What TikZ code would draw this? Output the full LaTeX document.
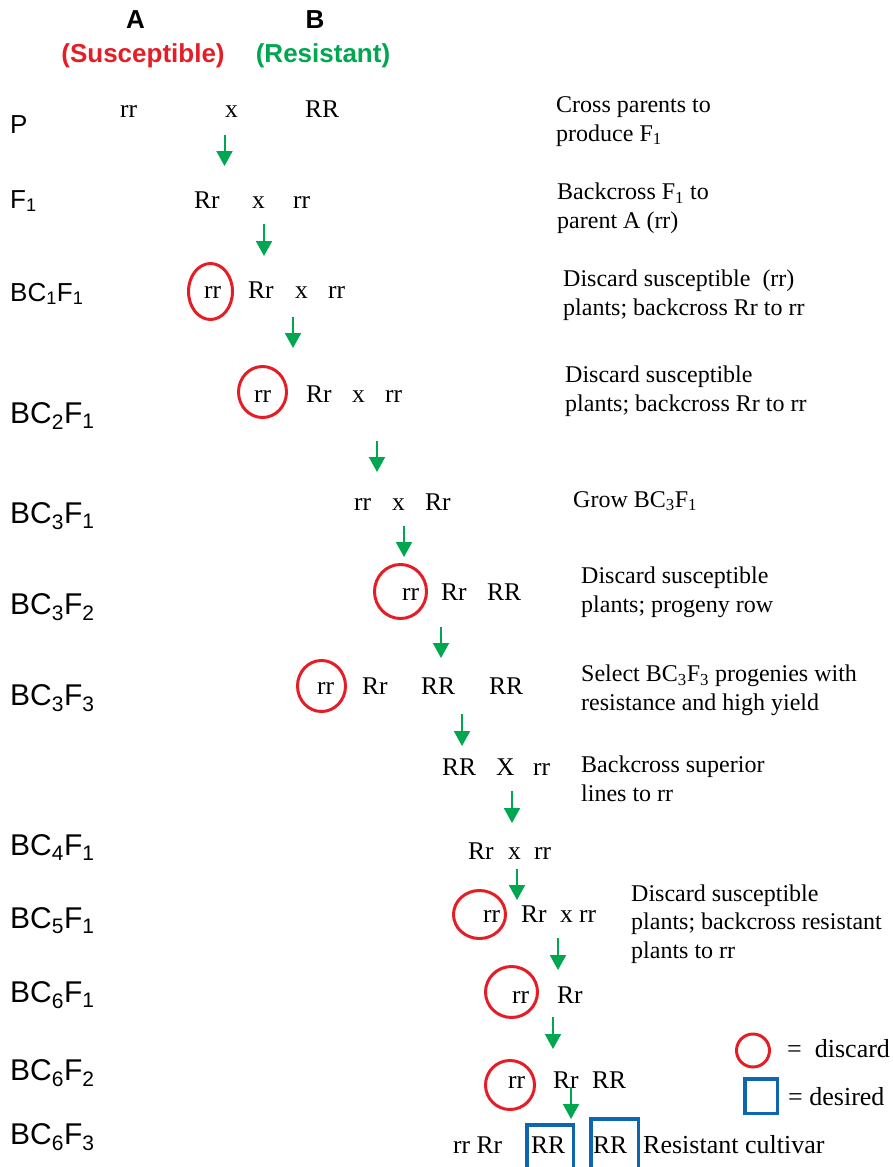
\documentclass[tikz,border=0pt]{standalone}
\usepackage{fontspec}
\setmainfont{Liberation Serif}
\setsansfont{Liberation Sans}
\usetikzlibrary{arrows.meta,shapes.geometric}

\definecolor{discred}{HTML}{E41E26}
\definecolor{flowgreen}{HTML}{00A650}
\definecolor{keepblue}{HTML}{0F66B0}

\tikzset{
  gen/.style={inner sep=0pt, anchor=base west, font=\fontsize{25.5}{30}\selectfont},
  gen label/.style={inner sep=0pt, anchor=base west, font=\sffamily\fontsize{30}{36}\selectfont},
  small label/.style={inner sep=0pt, anchor=base west, font=\sffamily\fontsize{26}{31}\selectfont},
  note/.style={inner sep=0pt, anchor=base west, align=left, font=\fontsize{24}{28.5}\selectfont},
  head/.style={inner sep=0pt, anchor=base, font=\sffamily\bfseries\fontsize{26}{31}\selectfont},
  discard/.style={draw=discred, line width=3pt, ellipse, inner sep=0pt},
  desired/.style={draw=keepblue, line width=3.5pt, rectangle, inner sep=0pt},
  flow/.style={draw=flowgreen, line width=2pt, -{Triangle[width=16pt,length=15pt]}},
}

\begin{document}
\begin{tikzpicture}[x=1pt, y=-1pt]

        \useasboundingbox (0,0) rectangle (893,1167);

        % Parent headings
        \node[head] (hA) at (135.5,28) {A};
        \node[head, text=discred] (hAs) at (143,62) {(Susceptible)};
        \node[head] (hB) at (315,28) {B};
        \node[head, text=flowgreen] (hBs) at (323,62) {(Resistant)};

        % Generation labels on the left
        \node[small label] (gP) at (10,133) {P};
        \node[small label] (gF) at (10,208) {F\textsubscript{1}};
        \node[small label] (gBC1) at (10,301) {BC\textsubscript{1}F\textsubscript{1}};
        \foreach \k/\b/\f/\y in {2/2/1/423, 3/3/1/523, 4/3/2/614, 5/3/3/705,
                                 6/4/1/855, 7/5/1/928, 8/6/1/1002, 9/6/2/1080, 10/6/3/1144} {
            \node[gen label] (g\k) at (10,\y) {BC\textsubscript{\b}F\textsubscript{\f}};
        }

        % Genotypes, row by row
        \node[gen] (p1) at (120,117) {rr};
        \node[gen] (px) at (225,117) {x};
        \node[gen] (p2) at (305,117) {RR};

        \node[gen] (f1) at (194,208) {Rr};
        \node[gen] (fx) at (252,208) {x};
        \node[gen] (f2) at (293,208) {rr};

        \node[gen] (b1a) at (204,298) {rr};
        \node[gen] (b1b) at (248,298) {Rr};
        \node[gen] (b1x) at (295,298) {x};
        \node[gen] (b1c) at (328,298) {rr};

        \node[gen] (b2a) at (254,402) {rr};
        \node[gen] (b2b) at (306,402) {Rr};
        \node[gen] (b2x) at (352,402) {x};
        \node[gen] (b2c) at (385,402) {rr};

        \node[gen] (b3a) at (354,510) {rr};
        \node[gen] (b3x) at (392,510) {x};
        \node[gen] (b3b) at (425,510) {Rr};

        \node[gen] (b32a) at (402,600) {rr};
        \node[gen] (b32b) at (441,600) {Rr};
        \node[gen] (b32c) at (487,600) {RR};

        \node[gen] (b33a) at (317,694) {rr};
        \node[gen] (b33b) at (362,694) {Rr};
        \node[gen] (b33c) at (421,694) {RR};
        \node[gen] (b33d) at (489,694) {RR};

        \node[gen] (sa) at (442,775) {RR};
        \node[gen] (sx) at (496,775) {X};
        \node[gen] (sb) at (533,775) {rr};

        \node[gen] (b4a) at (468,859) {Rr};
        \node[gen] (b4x) at (508,859) {x};
        \node[gen] (b4b) at (534,859) {rr};

        \node[gen] (b5a) at (483,922) {rr};
        \node[gen] (b5b) at (521,922) {Rr};
        \node[gen] (b5x) at (560,922) {x};
        \node[gen] (b5c) at (579,922) {rr};

        \node[gen] (b6a) at (512,1003) {rr};
        \node[gen] (b6b) at (557,1003) {Rr};

        \node[gen] (b62a) at (508,1088) {rr};
        \node[gen] (b62b) at (553,1088) {Rr};
        \node[gen] (b62c) at (592,1088) {RR};

        \node[gen] (b63a) at (453,1153) {rr Rr};
        \node[gen] (b63b) at (531,1153) {RR};
        \node[gen] (b63c) at (593,1153) {RR};
        \node[gen, font=\fontsize{26}{31}\selectfont] (cult) at (643,1153) {Resistant cultivar};

        % Red rings round the discarded plants
        \node[discard, minimum width=44, minimum height=56] (d1) at (210.5,291.5) {};
        \node[discard, minimum width=48, minimum height=51] (d2) at (262.5,392) {};
        \node[discard, minimum width=52, minimum height=54] (d3) at (400.5,591.5) {};
        \node[discard, minimum width=48, minimum height=51] (d4) at (321.5,686) {};
        \node[discard, minimum width=52, minimum height=48] (d5) at (479.5,914.5) {};
        \node[discard, minimum width=52, minimum height=51] (d6) at (511.5,992) {};
        \node[discard, minimum width=49, minimum height=49] (d7) at (510,1085) {};

        % Blue boxes round the kept lines
        \node[desired, minimum width=46.5, minimum height=48] (k1) at (550,1148.75) {};
        \node[desired, minimum width=47.5, minimum height=54] (k2) at (614.5,1145.75) {};

        % Green arrows between generations
        \foreach \x/\ya/\yb [count=\i] in {224.5/135/166, 264/224/256, 293/317/348, 377/441/472,
                                           404/526/557, 441/627/658, 462/714/746, 512/791/823,
                                           517/869/900, 558/938/970, 553/1017/1049, 571/1087/1119} {
            \coordinate (s\i) at (\x,\ya);
            \coordinate (e\i) at (\x,\yb);
            \draw[flow] (s\i) -- (e\i);
        }

        % Notes on the right (placed by the baseline of their last line)
        \node[note] (n1) at (556,141) {Cross parents to\\produce F\textsubscript{1}};
        \node[note] (n2) at (557,228) {Backcross F\textsubscript{1} to\\parent A (rr)};
        \node[note] (n3) at (563,315) {Discard susceptible\ \ (rr)\\plants; backcross Rr to rr};
        \node[note] (n4) at (565,411) {Discard susceptible\\plants; backcross Rr to rr};
        \node[note] (n5) at (573,507) {Grow BC\textsubscript{3}F\textsubscript{1}};
        \node[note] (n6) at (581,612) {Discard susceptible\\plants; progeny row};
        \node[note] (n7) at (581,710) {Select BC\textsubscript{3}F\textsubscript{3} progenies with\\resistance and high yield};
        \node[note] (n8) at (581,801) {Backcross superior\\lines to rr};
        \node[note] (n9) at (631,958) {Discard susceptible\\plants; backcross resistant\\plants to rr};

        % Key
        \node[discard, circle, minimum size=33] (kd) at (753,1050.5) {};
        \node[gen, font=\fontsize{26}{31}\selectfont] (kdt) at (787,1057) {=\ \ discard};
        \node[desired, minimum width=32.5, minimum height=34.5] (kk) at (761,1096) {};
        \node[gen, font=\fontsize{26}{31}\selectfont] (kkt) at (788,1105) {= desired};

\end{tikzpicture}
\end{document}
